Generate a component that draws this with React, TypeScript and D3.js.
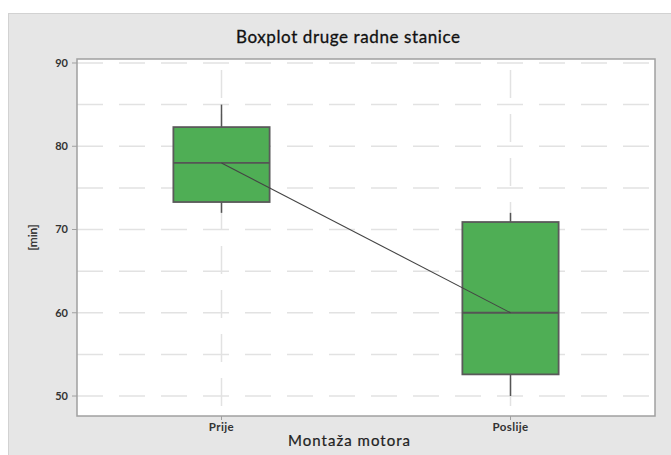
import React from "react";
import * as d3 from "d3";

const categories = ["Prije", "Poslije"];
const whiskerLow = [72, 50];
const q1 = [73.3, 52.6];
const median = [78, 60];
const q3 = [82.3, 70.9];
const whiskerHigh = [85, 72];
const yTicks = [50, 60, 70, 80, 90];
const yGrid = [50, 55, 60, 65, 70, 75, 80, 85, 90];

const W = 671, H = 455;
const L = 77, R = 655, T = 59, B = 416;
const FONT = "Lato, 'Open Sans', sans-serif";

export default function App() {
  const y = d3.scaleLinear().domain([47.6, 90.48]).range([B, T]);
  const x = d3.scalePoint<string>().domain(categories).range([L, R]).padding(0.5);
  const bw = x.step() * 0.333;
  const medLine = d3
    .line<number>()
    .x((_, i) => x(categories[i]) as number)
    .y((d) => y(d));

  return (
    <svg width={W} height={H} style={{ position: "absolute", left: 0, top: 0, display: "block" }}>
      <rect x={0} y={0} width={W} height={H} fill="#ffffff" />
      <rect x={8.5} y={13.5} width={700} height={460} fill="#e6e6e6" stroke="#d2d2d2" strokeWidth={1} />
      <text x={348} y={43} textAnchor="middle" fontFamily={FONT} fontSize={17} fill="#111" stroke="#111" strokeWidth={0.3} textLength={224} lengthAdjust="spacing">
        Boxplot druge radne stanice
      </text>
      <rect x={L} y={T} width={R - L} height={B - T} fill="#ffffff" />
      {yGrid.map((v) => (
        <line key={"g" + v} x1={L} x2={R} y1={y(v)} y2={y(v)} stroke="#e2e2e2" strokeWidth={1.5} strokeDasharray="26,16" />
      ))}
      {categories.map((c) => (
        <line key={"v" + c} x1={x(c)} x2={x(c)} y1={T} y2={B} stroke="#e2e2e2" strokeWidth={1.5} strokeDasharray="28,16" strokeDashoffset={-11} />
      ))}
      {categories.map((c, i) => {
        const cx = x(c) as number;
        return (
          <g key={"b" + c}>
            <line x1={cx} x2={cx} y1={y(whiskerHigh[i])} y2={y(q3[i])} stroke="#555" strokeWidth={1.5} />
            <line x1={cx} x2={cx} y1={y(q1[i])} y2={y(whiskerLow[i])} stroke="#555" strokeWidth={1.5} />
            <rect x={cx - bw / 2} y={y(q3[i])} width={bw} height={y(q1[i]) - y(q3[i])} fill="#4fae55" stroke="#5a5a5a" strokeWidth={1.8} />
            <line x1={cx - bw / 2} x2={cx + bw / 2} y1={y(median[i])} y2={y(median[i])} stroke="#555" strokeWidth={1.8} />
          </g>
        );
      })}
      <path d={medLine(median) || ""} fill="none" stroke="#444" strokeWidth={1.1} />
      <rect x={L} y={T} width={R - L} height={B - T} fill="none" stroke="#a0a0a0" strokeWidth={1.5} />
      {yTicks.map((v) => (
        <g key={"t" + v}>
          <line x1={L - 5} x2={L} y1={y(v)} y2={y(v)} stroke="#a0a0a0" strokeWidth={1} />
          <text x={L - 9} y={y(v)} dy="0.35em" textAnchor="end" fontFamily={FONT} fontSize={11} fontWeight="bold" fill="#333">
            {v}
          </text>
        </g>
      ))}
      {categories.map((c) => (
        <g key={"x" + c}>
          <line x1={x(c)} x2={x(c)} y1={B} y2={B + 4} stroke="#a0a0a0" strokeWidth={1} />
          <text x={x(c)} y={B + 14.5} textAnchor="middle" fontFamily={FONT} fontSize={11.5} fontWeight="bold" fill="#333" letterSpacing={0.4}>
            {c}
          </text>
        </g>
      ))}
      <text x={349} y={446} textAnchor="middle" fontFamily={FONT} fontSize={15} fill="#222" stroke="#222" strokeWidth={0.2} textLength={122} lengthAdjust="spacing">
        Montaža motora
      </text>
      <text transform={`translate(37, ${(T + B) / 2}) rotate(-90)`} textAnchor="middle" fontFamily={FONT} fontSize={12} fill="#222" stroke="#222" strokeWidth={0.2}>
        [min]
      </text>
    </svg>
  );
}
